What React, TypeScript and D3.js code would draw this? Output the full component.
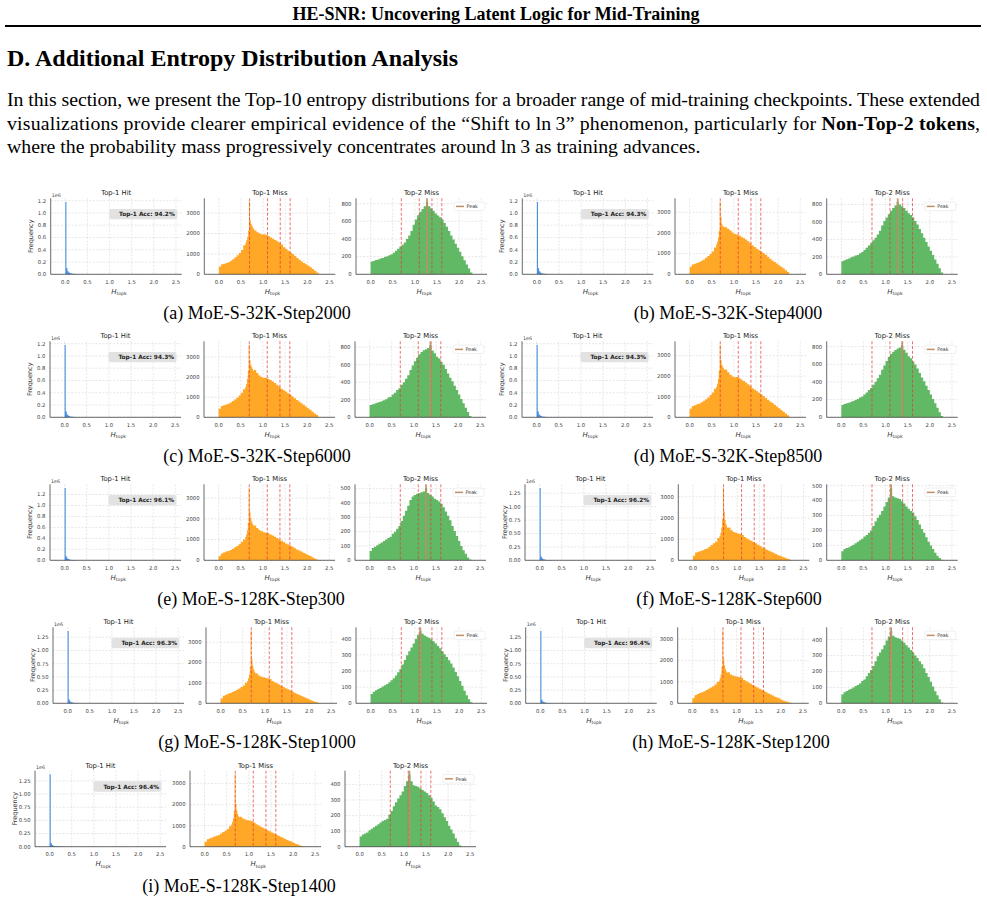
import * as d3 from 'd3';

// ---- page text ----
const runningHead = 'HE-SNR: Uncovering Latent Logic for Mid-Training';
const sectionTitle = 'D. Additional Entropy Distribution Analysis';
const paraLine1 = 'In this section, we present the Top-10 entropy distributions for a broader range of mid-training checkpoints. These extended';
const paraLine2a = 'visualizations provide clearer empirical evidence of the \u201cShift to ln\u20093\u201d phenomenon, particularly for ';
const paraLine2b = 'Non-Top-2 tokens';
const paraLine3 = 'where the probability mass progressively concentrates around ln\u20093 as training advances.';

// ---- subfigure data ----
const captions = [
  '(a) MoE-S-32K-Step2000', '(b) MoE-S-32K-Step4000', '(c) MoE-S-32K-Step6000',
  '(d) MoE-S-32K-Step8500', '(e) MoE-S-128K-Step300', '(f) MoE-S-128K-Step600',
  '(g) MoE-S-128K-Step1000', '(h) MoE-S-128K-Step1200', '(i) MoE-S-128K-Step1400',
];
const top1Acc = [94.2, 94.3, 94.3, 94.3, 96.1, 96.2, 96.3, 96.4, 96.4];

// reference entropies ln2, ln3, ln4, ln5
const lnMarks = [0.693, 1.099, 1.386, 1.609];

const xTicks = [0, 0.5, 1.0, 1.5, 2.0, 2.5];
const hitTicksTenth = [0, 200000, 400000, 600000, 800000, 1000000, 1200000];
const hitTicksQuarter = [0, 250000, 500000, 750000, 1000000, 1250000];
const top1MissTicks = [0, 1000, 2000, 3000];
const top2MissTicksWide = [0, 200, 400, 600, 800];
const top2MissTicksNarrow = [0, 100, 200, 300, 400, 500];

// bin edges: hit 0.025 wide, Top-2 miss 0.05 wide,
// Top-1 miss 0.05 wide with 0.02 bins around the ln2 spike
const round3 = (v: number) => Math.round(v * 1000) / 1000;
const edgesOf = (width: number, n: number) => d3.range(n + 1).map(i => round3(i * width));
const miss1Edges = [
  ...d3.range(12).map(i => round3(i * 0.05)),
  ...d3.range(10).map(i => round3(0.6 + i * 0.02)),
  ...d3.range(31).map(i => round3(0.8 + i * 0.05)),
];

// Top-1 Hit counts
const hitA = [1180000, 100000, 50000, 30000, 20000, 14000, 10000, 8000, 6000, 5000, 4000, 3000, 2200, 1600, 1100, 700];
const hitB = [1180000, 98000, 48000, 29000, 19000, 13000, 9500, 7500, 5800, 4600, 3600, 2800, 2100, 1500, 1000, 600];
const hitC = [1180000, 96000, 47000, 28000, 19000, 13000, 9500, 7400, 5700, 4500, 3500, 2700, 2000, 1500, 1000, 600];
const hitD = [1180000, 95000, 47000, 28000, 18500, 13000, 9400, 7300, 5600, 4400, 3400, 2600, 2000, 1400, 1000, 600];
const hitE = [1320000, 75000, 38000, 22000, 15000, 10000, 7500, 5800, 4500, 3500, 2700, 2100, 1600, 1200, 800, 500];
const hitF = [1350000, 72000, 36000, 21000, 14000, 9500, 7000, 5500, 4200, 3300, 2600, 2000, 1500, 1100, 800, 500];
const hitG = [1370000, 70000, 35000, 20000, 13500, 9200, 6800, 5300, 4100, 3200, 2500, 1900, 1400, 1000, 700, 400];
const hitH = [1370000, 68000, 34000, 20000, 13000, 9000, 6700, 5200, 4000, 3100, 2400, 1900, 1400, 1000, 700, 400];
const hitI = [1375000, 68000, 34000, 19500, 13000, 9000, 6600, 5100, 4000, 3100, 2400, 1800, 1400, 1000, 700, 400];

// Top-1 Miss counts (on miss1Edges)
const miss1A = [380, 490, 520, 550, 590, 660, 740, 840, 940, 1050, 1190, 1420, 1560, 1680, 1850, 2150, 3550, 2650, 2480, 2380, 2300, 2220, 2150, 2060, 2000, 1950, 1960, 1940, 1880, 1800, 1740, 1680, 1620, 1550, 1460, 1330, 1240, 1150, 1070, 990, 900, 800, 710, 630, 560, 490, 420, 340, 260, 180, 90, 20];
const miss1B = [360, 470, 510, 550, 590, 650, 720, 800, 880, 980, 1100, 1300, 1450, 1580, 1780, 2100, 3500, 2780, 2450, 2340, 2300, 2270, 2280, 2200, 2120, 2020, 1950, 1920, 1880, 1820, 1760, 1680, 1600, 1500, 1400, 1320, 1240, 1160, 1090, 1020, 940, 850, 750, 670, 590, 520, 440, 370, 290, 200, 110, 20];
const miss1C = [420, 560, 600, 640, 680, 740, 810, 890, 970, 1090, 1220, 1400, 1500, 1650, 1900, 2300, 3600, 2850, 2620, 2500, 2400, 2320, 2350, 2200, 2080, 2000, 1960, 1970, 1920, 1850, 1780, 1700, 1620, 1530, 1420, 1350, 1280, 1200, 1120, 1040, 950, 860, 780, 700, 620, 540, 450, 370, 280, 190, 110, 20];
const miss1D = [410, 550, 590, 630, 670, 730, 800, 880, 960, 1080, 1210, 1390, 1480, 1630, 1880, 2280, 3520, 2800, 2580, 2470, 2380, 2300, 2330, 2190, 2070, 1990, 1950, 1960, 1910, 1840, 1770, 1690, 1610, 1520, 1410, 1340, 1270, 1190, 1110, 1030, 940, 850, 770, 690, 610, 530, 440, 360, 270, 180, 100, 20];
const miss1E = [210, 330, 380, 420, 450, 500, 560, 630, 690, 770, 880, 1000, 1120, 1250, 1450, 1800, 3490, 2350, 2050, 1880, 1760, 1680, 1680, 1560, 1460, 1400, 1350, 1330, 1300, 1250, 1200, 1140, 1070, 1000, 940, 880, 810, 760, 710, 650, 580, 520, 470, 420, 370, 310, 260, 210, 150, 90, 40, 10];
const miss1F = [220, 370, 400, 440, 480, 520, 560, 640, 720, 800, 880, 1050, 1150, 1300, 1550, 1950, 3420, 2300, 1900, 1720, 1600, 1530, 1550, 1420, 1340, 1300, 1270, 1240, 1200, 1100, 1030, 970, 920, 860, 800, 730, 670, 610, 560, 500, 450, 400, 360, 300, 250, 210, 170, 130, 90, 50, 20, 5];
const miss1G = [240, 370, 420, 470, 510, 560, 610, 670, 730, 800, 880, 1010, 1100, 1230, 1420, 1800, 3560, 2200, 1850, 1680, 1560, 1480, 1470, 1370, 1310, 1280, 1250, 1230, 1190, 1100, 1040, 980, 920, 860, 800, 740, 690, 640, 580, 520, 470, 420, 370, 320, 270, 220, 170, 120, 80, 50, 20, 5];
const miss1H = [240, 380, 430, 480, 520, 570, 620, 680, 740, 800, 880, 1000, 1060, 1180, 1350, 1700, 3390, 2100, 1780, 1620, 1500, 1430, 1450, 1350, 1300, 1270, 1240, 1220, 1180, 1090, 1030, 970, 920, 860, 800, 740, 680, 630, 570, 520, 460, 410, 360, 310, 270, 220, 170, 120, 80, 50, 20, 5];
const miss1I = [230, 360, 400, 440, 480, 520, 560, 630, 700, 760, 840, 970, 1060, 1180, 1350, 1700, 3440, 2050, 1720, 1560, 1450, 1400, 1420, 1340, 1290, 1260, 1250, 1210, 1150, 1070, 1010, 950, 900, 830, 780, 730, 680, 630, 570, 520, 470, 420, 370, 320, 270, 230, 180, 130, 90, 50, 20, 5];

// Top-2 Miss counts (0.05 bins from 0)
const miss2A = [145, 152, 162, 168, 178, 185, 195, 205, 215, 228, 245, 268, 290, 315, 335, 360, 400, 440, 490, 560, 620, 670, 710, 740, 770, 820, 770, 745, 720, 690, 665, 645, 620, 580, 540, 490, 440, 395, 345, 300, 255, 205, 160, 110, 65, 20];
const miss2B = [150, 160, 172, 180, 195, 205, 215, 222, 240, 255, 280, 305, 330, 355, 390, 420, 455, 500, 560, 610, 650, 690, 730, 760, 790, 830, 800, 780, 760, 730, 700, 680, 650, 610, 570, 520, 470, 420, 370, 320, 270, 220, 170, 120, 70, 20];
const miss2C = [140, 148, 158, 165, 175, 182, 195, 205, 225, 235, 260, 280, 310, 330, 370, 400, 440, 480, 540, 590, 640, 680, 720, 745, 765, 775, 790, 825, 760, 730, 690, 670, 630, 600, 550, 500, 450, 410, 360, 310, 260, 210, 160, 110, 60, 15];
const miss2D = [140, 150, 158, 166, 176, 184, 196, 206, 224, 236, 258, 282, 308, 332, 368, 402, 442, 482, 538, 588, 638, 682, 718, 742, 762, 780, 792, 820, 765, 732, 692, 668, 632, 598, 552, 502, 452, 408, 358, 308, 258, 208, 158, 108, 58, 15];
const miss2E = [65, 85, 95, 105, 115, 125, 135, 145, 155, 165, 185, 200, 220, 240, 275, 310, 345, 380, 420, 445, 455, 465, 470, 475, 480, 505, 470, 455, 445, 430, 420, 410, 395, 370, 340, 310, 280, 240, 205, 170, 135, 100, 70, 45, 20, 5];
const miss2F = [60, 75, 82, 88, 95, 105, 115, 125, 135, 145, 160, 170, 185, 200, 230, 260, 285, 305, 330, 360, 390, 420, 485, 430, 420, 415, 410, 395, 380, 360, 345, 330, 320, 295, 270, 240, 210, 185, 155, 125, 100, 75, 50, 30, 15, 3];
const miss2G = [58, 72, 80, 88, 95, 104, 112, 120, 130, 142, 155, 172, 192, 212, 240, 268, 298, 322, 345, 370, 398, 425, 448, 430, 420, 412, 405, 396, 384, 370, 355, 340, 322, 304, 286, 266, 246, 222, 194, 168, 138, 108, 78, 50, 25, 6];
const miss2H = [55, 70, 78, 85, 92, 100, 108, 115, 125, 140, 150, 170, 190, 210, 235, 265, 295, 320, 340, 365, 395, 420, 455, 425, 415, 410, 405, 395, 380, 365, 350, 335, 320, 300, 285, 265, 245, 220, 190, 165, 135, 105, 75, 50, 25, 5];
const miss2I = [65, 78, 85, 92, 105, 115, 125, 135, 145, 155, 165, 172, 180, 205, 230, 260, 285, 310, 330, 355, 390, 420, 465, 420, 395, 390, 385, 375, 365, 355, 345, 330, 315, 290, 265, 255, 240, 215, 190, 165, 135, 110, 85, 55, 30, 8];

const hitSets = [hitA, hitB, hitC, hitD, hitE, hitF, hitG, hitH, hitI];
const top1MissSets = [miss1A, miss1B, miss1C, miss1D, miss1E, miss1F, miss1G, miss1H, miss1I];
const top2MissSets = [miss2A, miss2B, miss2C, miss2D, miss2E, miss2F, miss2G, miss2H, miss2I];

// ---- layout ----
const PW = 131;
const PH = 76;
const X_DOMAIN: [number, number] = [-0.33, 2.63];
const rowBottoms = [274.3, 417.3, 560.3, 703.3, 846.7];

const layout = [
  { lefts: [50.7, 204.3, 356], row: 0, capX: 257 },
  { lefts: [522.3, 675, 826.7], row: 0, capX: 728 },
  { lefts: [50, 204, 355], row: 1, capX: 257 },
  { lefts: [522, 675, 826.7], row: 1, capX: 728 },
  { lefts: [50, 204, 355], row: 2, capX: 251 },
  { lefts: [525, 678.3, 826.7], row: 2, capX: 729 },
  { lefts: [53, 206, 356], row: 3, capX: 257 },
  { lefts: [525.7, 677.7, 826.7], row: 3, capX: 731 },
  { lefts: [35, 190, 345], row: 4, capX: 239 },
];

const SANS = 'DejaVu Sans, sans-serif';
const SERIF = "'Liberation Serif', 'Times New Roman', serif";
const COLORS = { hit: '#4a90e2', miss1: '#ffa726', miss2: '#62b965', ln: '#e53935', peak: '#bf8f68' };

type Kind = 'hit' | 'miss1' | 'miss2';
interface PanelProps {
  left: number;
  bottom: number;
  kind: Kind;
  bins: number[];
  edges: number[];
  ticks: number[];
  title: string;
  acc?: number;
}

const Panel = ({ left, bottom, kind, bins, edges, ticks, title, acc }: PanelProps) => {
  const x = d3.scaleLinear().domain(X_DOMAIN).range([0, PW]);
  const y = d3.scaleLinear().domain([0, (d3.max(bins) as number) * 1.05]).range([PH, 0]);
  const pts = bins.map((v, i) => ({ e: edges[i], v }));
  pts.push({ e: edges[bins.length], v: bins[bins.length - 1] });
  const area = d3.area<{ e: number; v: number }>()
    .x(d => x(d.e))
    .y0(PH)
    .y1(d => y(d.v))
    .curve(d3.curveStepAfter);
  const yt = ticks.filter(t => t <= y.domain()[1]);
  const quarter = ticks[1] === 250000;
  const fmt = (t: number) =>
    kind === 'hit' ? (t / 1e6).toFixed(quarter ? 2 : 1) : d3.format('d')(t);
  const pk = d3.maxIndex(bins);
  const peakX = (edges[pk] + edges[pk + 1]) / 2;
  const top = bottom - PH;

  return (
    <g transform={`translate(${left},${top})`}>
      {/* grid */}
      {xTicks.map(t => (
        <line key={'gx' + t} x1={x(t)} x2={x(t)} y1={0} y2={PH}
          stroke="#cfcfcf" strokeWidth={0.5} strokeDasharray="2,1.5" />
      ))}
      {yt.map(t => (
        <line key={'gy' + t} x1={0} x2={PW} y1={y(t)} y2={y(t)}
          stroke="#cfcfcf" strokeWidth={0.5} strokeDasharray="2,1.5" />
      ))}
      <path d={area(pts) || ''} fill={COLORS[kind]} />
      {kind !== 'hit' && lnMarks.map(m => (
        <line key={'ln' + m} x1={x(m)} x2={x(m)} y1={0} y2={PH}
          stroke={COLORS.ln} strokeWidth={0.9} strokeOpacity={0.8} strokeDasharray="3,1.8" />
      ))}
      {kind === 'miss2' && (
        <g>
          <line x1={x(peakX)} x2={x(peakX)} y1={0} y2={PH} stroke={COLORS.peak} strokeWidth={1.8} strokeOpacity={0.9} />
          <rect x={PW - 33} y={3.8} width={31} height={8.6} rx={1.5} fill="#fff" fillOpacity={0.85} stroke="#d8d8d8" strokeWidth={0.4} />
          <line x1={PW - 31} x2={PW - 23} y1={8.1} y2={8.1} stroke={COLORS.peak} strokeWidth={1.5} />
          <text x={PW - 20.5} y={9.9} fontSize={4.8} fontFamily={SANS} fill="#333">Peak</text>
        </g>
      )}
      {/* spines */}
      <line x1={0} x2={0} y1={0} y2={PH} stroke="#444" strokeWidth={0.8} />
      <line x1={0} x2={PW} y1={PH} y2={PH} stroke="#444" strokeWidth={0.8} />
      {yt.map(t => (
        <text key={'ty' + t} x={-4.5} y={y(t)} dy="0.35em" textAnchor="end"
          fontSize={5.3} fontFamily={SANS} fill="#444">{fmt(t)}</text>
      ))}
      {xTicks.map(t => (
        <text key={'tx' + t} x={x(t)} y={PH + 9.4} textAnchor="middle"
          fontSize={5.3} fontFamily={SANS} fill="#444">{t.toFixed(1)}</text>
      ))}
      <text x={PW / 2} y={-3.2} textAnchor="middle" fontSize={6.8} fontFamily={SANS} fill="#1a1a1a">{title}</text>
      <text x={PW / 2 - 5} y={PH + 19.5} fontSize={7} fontFamily={SANS} fill="#333">
        <tspan fontStyle="italic">H</tspan>
        <tspan fontSize={4.6} dy={1.6}>topk</tspan>
      </text>
      {kind === 'hit' && (
        <g>
          <text x={1} y={-1.8} fontSize={4.8} fontFamily={SANS} fill="#444">1e6</text>
          <text transform={`translate(-18,${PH / 2}) rotate(-90)`} textAnchor="middle"
            fontSize={6.5} fontFamily={SANS} fill="#333">Frequency</text>
          <rect x={PW - 72.5} y={10.6} width={68} height={10.4} rx={2} fill="#e2e2e2" />
          <text x={PW - 7} y={18.1} textAnchor="end" fontSize={5.8} fontWeight="bold"
            fontFamily={SANS} fill="#222">{`Top-1 Acc: ${acc?.toFixed(1)}%`}</text>
        </g>
      )}
    </g>
  );
};

const App = () => {
  return (
    <svg width={987} height={901} viewBox="0 0 987 901"
      style={{ position: 'absolute', left: 0, top: 0, display: 'block', background: '#fff' }}>
      <rect width={987} height={901} fill="#fff" />
      <text x={496} y={20} textAnchor="middle" fontFamily={SERIF} fontWeight="bold" fontSize={18}>{runningHead}</text>
      <line x1={5} x2={981} y1={26} y2={26} stroke="#000" strokeWidth={1.8} />
      <text x={7} y={66} fontFamily={SERIF} fontWeight="bold" fontSize={24}>{sectionTitle}</text>
      <text x={7} y={106} fontFamily={SERIF} fontSize={19.8} textLength={973} lengthAdjust="spacing">{paraLine1}</text>
      <text x={7} y={129.5} fontFamily={SERIF} fontSize={19.8} textLength={973} lengthAdjust="spacing">
        {paraLine2a}<tspan fontWeight="bold">{paraLine2b}</tspan>,
      </text>
      <text x={7} y={153} fontFamily={SERIF} fontSize={19.8}>{paraLine3}</text>

      {layout.map((g, i) => {
        const bottom = rowBottoms[g.row];
        const wideHit = i >= 5;
        return (
          <g key={captions[i]}>
            <Panel left={g.lefts[0]} bottom={bottom} kind="hit" bins={hitSets[i]}
              edges={edgesOf(0.025, hitSets[i].length)}
              ticks={wideHit ? hitTicksQuarter : hitTicksTenth} title="Top-1 Hit" acc={top1Acc[i]} />
            <Panel left={g.lefts[1]} bottom={bottom} kind="miss1" bins={top1MissSets[i]}
              edges={miss1Edges} ticks={top1MissTicks} title="Top-1 Miss" />
            <Panel left={g.lefts[2]} bottom={bottom} kind="miss2" bins={top2MissSets[i]}
              edges={edgesOf(0.05, top2MissSets[i].length)}
              ticks={i < 4 ? top2MissTicksWide : top2MissTicksNarrow} title="Top-2 Miss" />
            <text x={g.capX} y={bottom + 45} textAnchor="middle" fontFamily={SERIF} fontSize={18}>{captions[i]}</text>
          </g>
        );
      })}
    </svg>
  );
};

export default App;
